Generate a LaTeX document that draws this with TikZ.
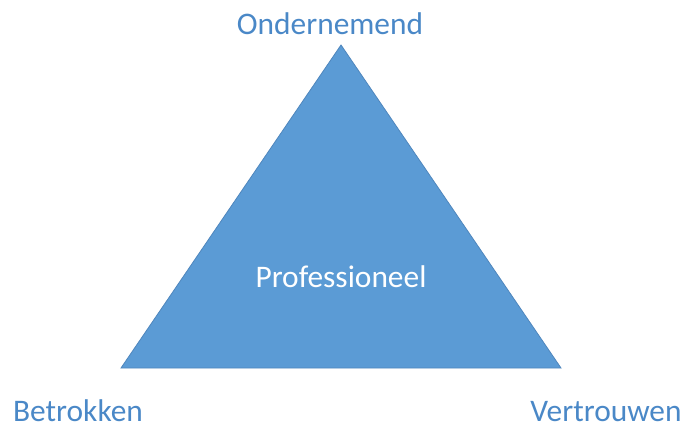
\documentclass[tikz,border=0pt]{standalone}
\usepackage{fontspec}
\setmainfont{Carlito}
\usetikzlibrary{positioning}

\definecolor{accentblue}{HTML}{5B9BD5}
\definecolor{edgeblue}{HTML}{4F86BD}
\definecolor{labelblue}{HTML}{4A88C7}

\tikzset{
  corner/.style={text=labelblue, font=\fontsize{15.7}{18}\selectfont, inner sep=0pt, anchor=base},
  centre/.style={text=white, font=\fontsize{15.7}{18}\selectfont, inner sep=0pt, anchor=base}
}

\begin{document}
\begin{tikzpicture}[x=0.5pt, y=-0.5pt, line join=miter]

% fixed frame of the figure
\useasboundingbox (0,0) rectangle (688,427);

% triangle corners
\coordinate (top) at (341,45);
\coordinate (left) at (121,368);
\coordinate (right) at (561,368);

% the triangle itself
\filldraw[fill=accentblue, draw=edgeblue, line width=0.4pt] (top) -- (right) -- (left) -- cycle;

% labels at the corners
\node[corner] (ondernemend) at (330,35) {Ondernemend};
\node[corner] (betrokken) at (78,421) {Betrokken};
\node[corner] (vertrouwen) at (606,421) {Vertrouwen};

% label in the middle
\node[centre] (professioneel) at (341,287) {Professioneel};

\end{tikzpicture}
\end{document}
